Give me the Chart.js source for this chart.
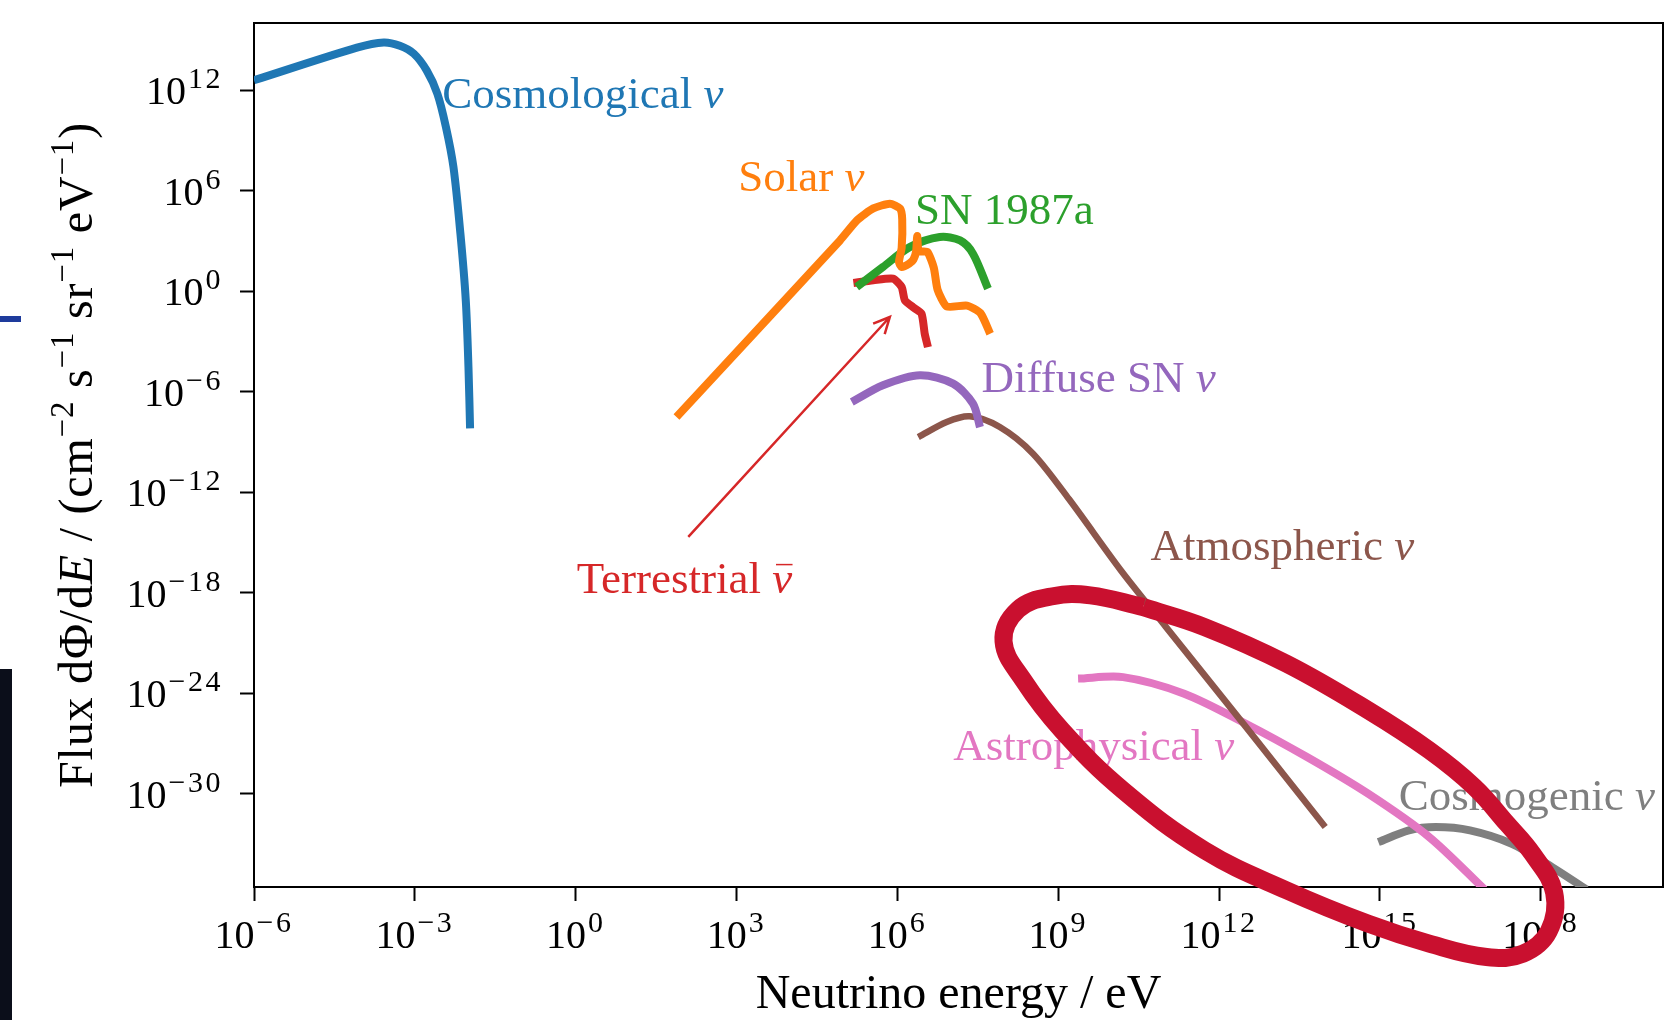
<!DOCTYPE html>
<html>
<head>
<meta charset="utf-8">
<title>Neutrino fluxes</title>
<script src="https://cdn.jsdelivr.net/npm/chart.js@4.4.1/dist/chart.umd.min.js"></script>
<style>
  html, body { margin: 0; padding: 0; background: #fff; }
  #wrap { position: relative; width: 1666px; height: 1020px; }
  /* bits of the screen behind the slide */
  .strip { position: absolute; left: 0; top: 669px; width: 12px; height: 351px; background: #0b0e1a; }
  .dash { position: absolute; left: 0; top: 316px; width: 21px; height: 6px; background: #1e3b9c; }
</style>
</head>
<body>
<div id="wrap">
  <canvas id="chart"></canvas>
  <div class="strip"></div>
  <div class="dash"></div>
</div>
<script>
// all values are log10 (energy in eV, flux in cm^-2 s^-1 sr^-1 eV^-1)
const cosmoLogE = [-6.0, -4.08, -3.58, -3.28, -3.02, -2.78, -2.58, -2.42, -2.28, -2.15, -2.05, -2.0, -1.97];
const cosmoLogFlux = [12.60, 14.55, 14.86, 14.66, 14.19, 13.19, 11.80, 9.81, 7.42, 3.44, -0.54, -4.52, -8.18];

const solarLogE = [1.88, 4.93, 5.25, 5.55, 5.86, 6.05, 6.09, 6.08, 6.03, 6.08, 6.22, 6.3, 6.35, 6.37, 6.40, 6.56, 6.68, 6.75, 6.92, 7.3, 7.55, 7.73];
const solarLogFlux = [-7.50, 3.04, 4.25, 4.95, 5.23, 4.94, 4.3, 2.6, 1.75, 1.45, 1.65, 1.9, 2.4, 3.3, 2.4, 2.35, 1.4, 0.1, -0.9, -0.85, -1.3, -2.53];

const snLogE = [5.24, 5.73, 6.23, 6.79, 7.17, 7.41, 7.69];
const snLogFlux = [0.26, 1.45, 2.64, 3.24, 3.04, 2.25, 0.16];

const terrLogE = [5.18, 5.55, 5.92, 6.08, 6.14, 6.29, 6.45, 6.51, 6.57];
const terrLogFlux = [0.50, 0.66, 0.76, 0.26, -0.54, -0.94, -1.33, -2.53, -3.33];

const dsnbLogE = [5.15, 5.73, 6.42, 7.04, 7.41, 7.54];
const dsnbLogFlux = [-6.61, -5.61, -5.01, -5.51, -6.70, -8.10];

const atmoLogE = [6.39, 6.92, 7.35, 7.91, 8.53, 9.2, 10.17, 11.0, 12.5, 13.98];
const atmoLogFlux = [-8.70, -7.80, -7.46, -8.10, -9.69, -12.4, -16.66, -20.0, -26.0, -31.98];

const astroLogE = [9.37, 10.21, 11.35, 12.50, 13.64, 14.78, 15.92, 16.95];
const astroLogFlux = [-23.12, -23.03, -24.02, -25.81, -27.80, -29.99, -32.58, -35.7];

const cosmogLogE = [14.97, 15.54, 16.04, 16.68, 17.45, 18.21, 18.85];
const cosmogLogFlux = [-32.88, -32.18, -31.98, -32.18, -32.97, -34.37, -35.7];

// the red loop somebody drew over the slide (starts and ends on its top side)
const loopLogE = [10.59, 11.73, 13.26, 14.78, 15.92, 16.76, 17.37, 17.85, 18.25, 18.15, 17.67, 16.99, 15.92, 14.78, 13.26, 11.73, 10.21, 9.07, 8.35, 7.98, 8.25, 8.9, 9.6, 10.59];
const loopLogFlux = [-18.85, -20.04, -22.23, -25.01, -27.40, -29.59, -31.78, -33.6, -35.9, -38.2, -39.54, -39.74, -38.94, -37.75, -35.76, -33.37, -29.79, -26.21, -23.22, -20.9, -19.0, -18.2, -18.15, -18.85];

// axis ticks (exponents) and limits
const xTickExps = [-6, -3, 0, 3, 6, 9, 12, 15, 18];
const yTickExps = [-30, -24, -18, -12, -6, 0, 6, 12];
const xLimExps = [-6, 20.28];
const yLimExps = [-35.56, 16.02];

// text labels: name, greek part, position (log E, log flux of baseline)
const labelNames = ['Cosmological ', 'Solar ', 'SN 1987a', 'Diffuse SN ', 'Terrestrial ', 'Atmospheric ', 'Astrophysical ', 'Cosmogenic '];
const labelGreek = ['\u03bd', '\u03bd', '', '\u03bd', '\u03bd', '\u03bd', '\u03bd', '\u03bd'];
const labelBar = [false, false, false, false, true, false, false, false];
const labelLogE = [-2.49, 3.03, 6.33, 7.57, 0.02, 10.72, 7.04, 15.35];
const labelLogFlux = [10.93, 5.99, 4.04, -6.01, -18.03, -16.06, -28.0, -30.99];

// y axis title pieces: [text, style]  n = normal, i = italic, s = superscript
const yTitleParts = [
  ['Flux d\u03a6/d', 'n'], ['E', 'i'], [' / (cm', 'n'], ['\u22122', 's'], [' s', 'n'], ['\u22121', 's'],
  [' sr', 'n'], ['\u22121', 's'], [' eV', 'n'], ['\u22121', 's'], [')', 'n']
];

// arrow pointing at the terrestrial curve
const arrowLogE = [2.10, 5.86];
const arrowLogFlux = [-14.66, -1.53];

const colors = {
  blue: '#1f77b4', orange: '#ff7f0e', green: '#2ca02c', red: '#d62728',
  purple: '#9467bd', brown: '#8c564b', pink: '#e377c2', gray: '#7f7f7f'
};
const labelColors = [colors.blue, colors.orange, colors.green, colors.purple, colors.red, colors.brown, colors.pink, colors.gray];

const SERIF = '"Liberation Serif", "DejaVu Serif", serif';

function points(logE, logF) {
  return logE.map((e, i) => ({ x: Math.pow(10, e), y: Math.pow(10, logF[i]) }));
}

function series(logE, logF, color, width, tension) {
  return {
    data: points(logE, logF),
    borderColor: color,
    borderWidth: width,
    tension: tension,
    pointRadius: 0,
    fill: false,
    clip: 0
  };
}

// "10" with a raised exponent, like the LaTeX tick labels
function drawPower(ctx, exp, x, y, align) {
  const sup = String(exp).replace('-', '\u2212');
  ctx.letterSpacing = '0px';
  ctx.font = '40px ' + SERIF;
  const bw = ctx.measureText('10').width;
  ctx.font = '30px ' + SERIF;
  ctx.letterSpacing = '2.5px';
  const sw = ctx.measureText(sup).width;
  const total = bw + 2 + sw;
  const left = align === 'right' ? x - total : x - total / 2;
  ctx.textAlign = 'left';
  ctx.textBaseline = 'alphabetic';
  ctx.fillText(sup, left + bw + 2, y - 16);
  ctx.letterSpacing = '0px';
  ctx.font = '40px ' + SERIF;
  ctx.fillText('10', left, y);
}

function partFont(style) {
  if (style === 'i') return 'italic 48px ' + SERIF;
  if (style === 's') return '33px ' + SERIF;
  return '48px ' + SERIF;
}

// frame, tick labels, y title, text labels and arrow drawn under the datasets
const decorPlugin = {
  id: 'decor',
  beforeDatasetsDraw(chart) {
    const { ctx, chartArea, scales } = chart;
    const x = scales.x, y = scales.y;
    ctx.save();
    // top and right spines
    ctx.strokeStyle = '#000';
    ctx.lineWidth = 2;
    ctx.beginPath();
    ctx.moveTo(chartArea.left, chartArea.top);
    ctx.lineTo(chartArea.right, chartArea.top);
    ctx.lineTo(chartArea.right, chartArea.bottom);
    ctx.stroke();

    // tick labels
    ctx.fillStyle = '#000';
    xTickExps.forEach(e => {
      drawPower(ctx, e, x.getPixelForValue(Math.pow(10, e)), chartArea.bottom + 61, 'center');
    });
    yTickExps.forEach(e => {
      drawPower(ctx, e, chartArea.left - 31, y.getPixelForValue(Math.pow(10, e)) + 14, 'right');
    });

    // y axis title, rotated
    ctx.letterSpacing = '0.8px';
    let total = 0;
    yTitleParts.forEach(p => { ctx.font = partFont(p[1]); total += ctx.measureText(p[0]).width; });
    ctx.save();
    ctx.translate(92, (chartArea.top + chartArea.bottom) / 2);
    ctx.rotate(-Math.PI / 2);
    ctx.textAlign = 'left';
    ctx.textBaseline = 'alphabetic';
    let pos = -total / 2;
    yTitleParts.forEach(p => {
      ctx.font = partFont(p[1]);
      ctx.fillText(p[0], pos, p[1] === 's' ? -19 : 0);
      pos += ctx.measureText(p[0]).width;
    });
    ctx.restore();
    ctx.letterSpacing = '0px';

    // labels
    ctx.textBaseline = 'alphabetic';
    labelNames.forEach((name, i) => {
      const px = x.getPixelForValue(Math.pow(10, labelLogE[i]));
      const py = y.getPixelForValue(Math.pow(10, labelLogFlux[i]));
      ctx.fillStyle = labelColors[i];
      ctx.textAlign = 'left';
      ctx.font = '45px ' + SERIF;
      ctx.fillText(name, px, py);
      const w = ctx.measureText(name).width;
      ctx.font = 'italic 45px ' + SERIF;
      ctx.fillText(labelGreek[i], px + w, py);
      if (labelBar[i]) {
        const gw = ctx.measureText(labelGreek[i]).width;
        ctx.font = '32px ' + SERIF;
        ctx.textAlign = 'center';
        ctx.fillText('\u00af', px + w + gw / 2 + 2, py - 5);
      }
    });

    // arrow
    const x0 = x.getPixelForValue(Math.pow(10, arrowLogE[0]));
    const y0 = y.getPixelForValue(Math.pow(10, arrowLogFlux[0]));
    const x1 = x.getPixelForValue(Math.pow(10, arrowLogE[1]));
    const y1 = y.getPixelForValue(Math.pow(10, arrowLogFlux[1]));
    const ang = Math.atan2(y1 - y0, x1 - x0);
    ctx.strokeStyle = colors.red;
    ctx.lineWidth = 2.5;
    ctx.beginPath();
    ctx.moveTo(x0, y0);
    ctx.lineTo(x1, y1);
    ctx.moveTo(x1 - 18 * Math.cos(ang - 0.45), y1 - 18 * Math.sin(ang - 0.45));
    ctx.lineTo(x1, y1);
    ctx.lineTo(x1 - 18 * Math.cos(ang + 0.45), y1 - 18 * Math.sin(ang + 0.45));
    ctx.stroke();
    ctx.restore();
  }
};

const ctx = document.getElementById('chart').getContext('2d');
new Chart(ctx, {
  type: 'line',
  data: {
    datasets: [
      Object.assign(series(loopLogE, loopLogFlux, '#c9102f', 18, 0.4), { clip: false, borderJoinStyle: 'round' }),
      series(cosmoLogE, cosmoLogFlux, colors.blue, 8, 0.3),
      series(solarLogE, solarLogFlux, colors.orange, 8, 0.2),
      series(snLogE, snLogFlux, colors.green, 8, 0.3),
      series(terrLogE, terrLogFlux, colors.red, 8, 0.2),
      series(dsnbLogE, dsnbLogFlux, colors.purple, 8, 0.3),
      series(atmoLogE, atmoLogFlux, colors.brown, 6.5, 0.3),
      series(astroLogE, astroLogFlux, colors.pink, 8, 0.3),
      series(cosmogLogE, cosmogLogFlux, colors.gray, 8, 0.3)
    ]
  },
  options: {
    responsive: true,
    maintainAspectRatio: false,
    animation: false,
    events: [],
    layout: { padding: { top: 23, right: 3, left: 0, bottom: 0 } },
    elements: { line: { capBezierPoints: false, borderCapStyle: 'butt' } },
    plugins: { legend: { display: false }, tooltip: { enabled: false } },
    scales: {
      x: {
        type: 'logarithmic',
        min: Math.pow(10, xLimExps[0]),
        max: Math.pow(10, xLimExps[1]),
        afterBuildTicks: s => { s.ticks = xTickExps.map(e => ({ value: Math.pow(10, e) })); },
        afterFit: s => { s.height = 133; },
        grid: { drawOnChartArea: false, drawTicks: true, tickLength: 14, tickWidth: 2, tickColor: '#000' },
        border: { display: true, color: '#000', width: 2 },
        ticks: { display: false, autoSkip: false, maxRotation: 0 },
        title: {
          display: true, text: 'Neutrino energy / eV', color: '#000',
          font: { family: SERIF, size: 48, lineHeight: 1 },
          padding: { top: 0, bottom: 1 }
        }
      },
      y: {
        type: 'logarithmic',
        min: Math.pow(10, yLimExps[0]),
        max: Math.pow(10, yLimExps[1]),
        afterBuildTicks: s => { s.ticks = yTickExps.map(e => ({ value: Math.pow(10, e) })); },
        afterFit: s => { s.width = 254; },
        grid: { drawOnChartArea: false, drawTicks: true, tickLength: 14, tickWidth: 2, tickColor: '#000' },
        border: { display: true, color: '#000', width: 2 },
        ticks: { display: false, autoSkip: false }
      }
    }
  },
  plugins: [decorPlugin]
});
</script>
</body>
</html>
